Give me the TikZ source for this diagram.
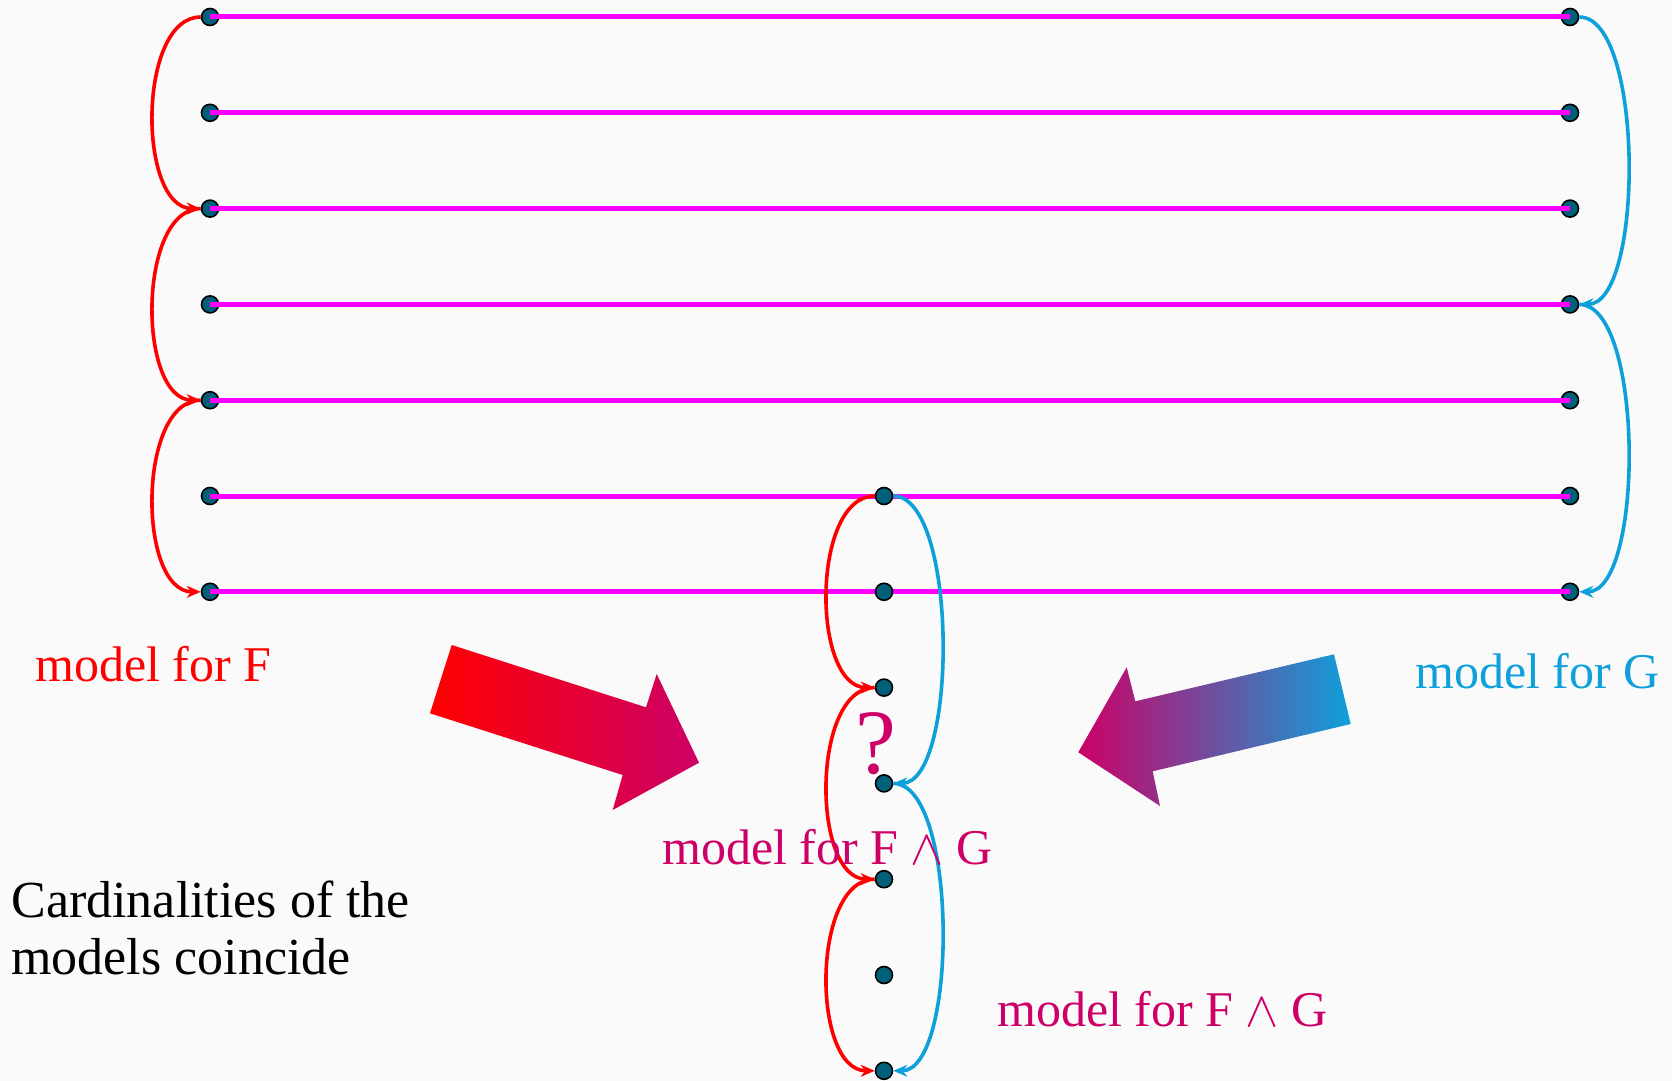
\documentclass[tikz,border=0pt]{standalone}
\usepackage{fontspec}
\setmainfont{Liberation Serif}
\usetikzlibrary{arrows.meta}

\definecolor{mred}{RGB}{255,0,0}
\definecolor{mblue}{RGB}{14,160,218}
\definecolor{mmag}{RGB}{255,0,255}
\definecolor{mcrim}{RGB}{204,0,102}
\definecolor{mdot}{RGB}{0,96,122}
\definecolor{mbg}{RGB}{250,250,250}

\begin{document}
\begin{tikzpicture}[x=0.5pt,y=-0.5pt,
      elem/.style = {circle, draw=black, line width=0.8pt, fill=mdot,
        inner sep=0pt, minimum size=8.5pt},
      link/.style = {draw=mmag, line width=2.5pt},
      redarc/.style = {draw=mred, line width=1.8pt, -{Stealth[length=7pt,width=6pt]},
        out=180, in=180, looseness=0.85},
      bluearc/.style = {draw=mblue, line width=1.8pt, -{Stealth[length=7pt,width=6pt]},
        out=0, in=0, looseness=0.58},
      lbl/.style = {anchor=base west, inner sep=0pt, font=\fontsize{25}{28.5}\selectfont}]
  \fill[mbg] (0,0) rectangle (1672,1081);
  \useasboundingbox (0,0) rectangle (1672,1081);

  % the two big models
  \foreach \i in {0,...,6} {
    \node[elem] (l\i) at (210,17+95.8*\i) {};
    \node[elem] (r\i) at (1570,17+95.8*\i) {};
    \draw[link] (l\i.center) -- (r\i.center);
  }
  % the small model
  \foreach \i in {5,...,11}
    \node[elem] (m\i) at (884,17+95.8*\i) {};

  \draw[redarc] (l0) to (l2);
  \draw[redarc] (l2) to (l4);
  \draw[redarc] (l4) to (l6);
  \draw[bluearc] (r0) to (r3);
  \draw[bluearc] (r3) to (r6);

  \draw[redarc] (m5) to (m7);
  \draw[redarc] (m7) to (m9);
  \draw[redarc] (m9) to (m11);
  \draw[bluearc] (m5) to (m8);
  \draw[bluearc] (m8) to (m11);

  % big arrows
  \shade[left color=mred, right color=mcrim]
    (451.7,645) -- (646,707.3) -- (656.7,674) -- (699,762.7)
    -- (612.7,810) -- (622.7,775) -- (430,713.3) -- cycle;
  \shade[left color=mcrim, right color=mblue]
    (1334,654.3) -- (1135.3,701.3) -- (1126.7,667.3) -- (1078.3,752.3)
    -- (1160,806) -- (1152.7,771.3) -- (1350.7,724) -- cycle;

  \node[lbl, text=mred] (tf) at (35,681) {model for F};
  \node[lbl, text=mblue] (tg) at (1415,688) {model for G};
  \node[lbl, text=mcrim] (tfg) at (662,864) {model for F $\wedge$ G};
  \node[lbl, text=mcrim] (tfg2) at (997,1026) {model for F $\wedge$ G};
  \node[anchor=base, inner sep=0pt, text=mcrim, font=\fontsize{46}{50}\selectfont]
    (q) at (876,773) {?};
  \node[anchor=north west, inner sep=0pt, align=left,
    font=\fontsize{26}{28.5}\selectfont] (card) at (11,880)
    {Cardinalities of the\\models coincide};
\end{tikzpicture}
\end{document}
